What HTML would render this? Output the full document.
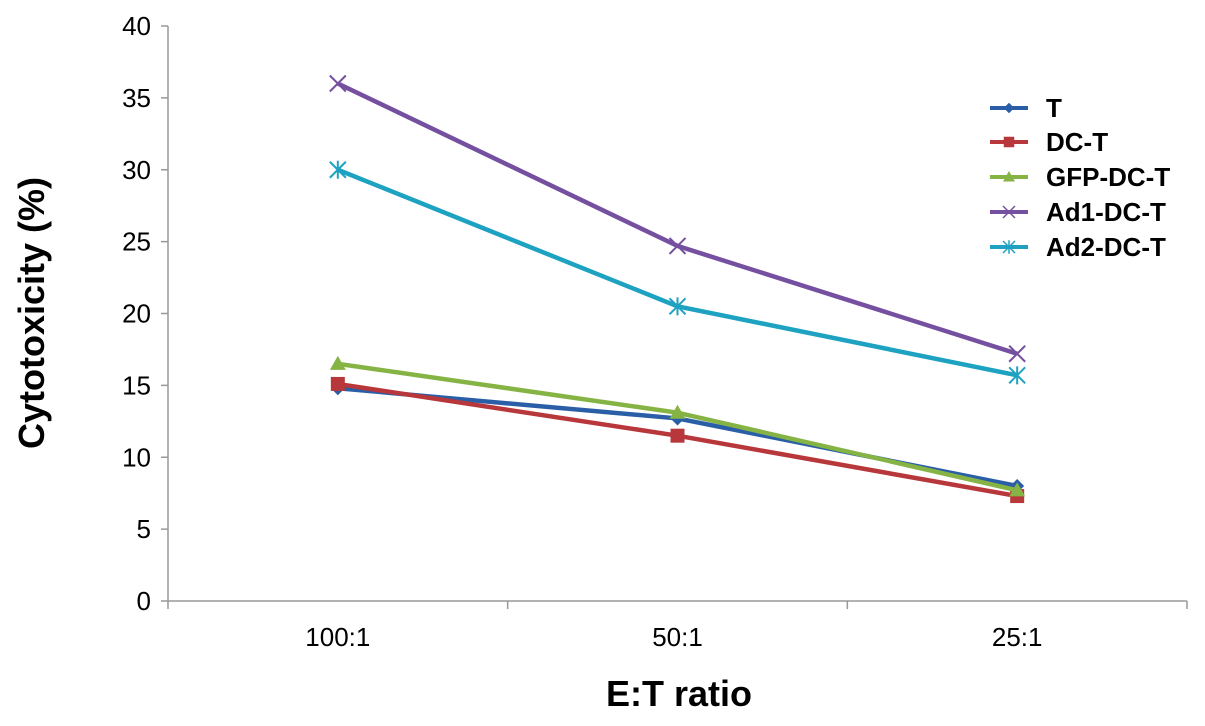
<!DOCTYPE html>
<html><head><meta charset="utf-8"><style>
body{margin:0;background:#fff;}
svg{display:block;font-family:"Liberation Sans",sans-serif;}
</style></head><body>
<svg id="chart" width="1205" height="726" viewBox="0 0 1205 726" xmlns="http://www.w3.org/2000/svg">
<g id="axes"></g><g id="series"></g><g id="legend"></g>
<text x="0" y="0" transform="translate(44,313) rotate(-90)" text-anchor="middle" font-size="36" font-weight="bold">Cytotoxicity (%)</text>
<text x="679" y="706" text-anchor="middle" font-size="36" font-weight="bold">E:T ratio</text>
</svg>
<script>
const categories = ["100:1","50:1","25:1"];
const yTicks = [0,5,10,15,20,25,30,35,40];
const seriesNames = ["T","DC-T","GFP-DC-T","Ad1-DC-T","Ad2-DC-T"];
const valuesT = [14.8,12.7,8.0];
const valuesDCT = [15.1,11.5,7.3];
const valuesGFP = [16.5,13.1,7.7];
const valuesAd1 = [36.0,24.7,17.2];
const valuesAd2 = [30.0,20.5,15.7];

const NS="http://www.w3.org/2000/svg";
const x0=168,x1=1187,yBase=601,yTop=26;
const ys=v=>yBase-(v/40)*(yBase-yTop);
const bw=(x1-x0)/categories.length;
const xs=i=>x0+bw*(i+0.5);
function mk(tag,attrs,parent){const e=document.createElementNS(NS,tag);for(const k in attrs)e.setAttribute(k,attrs[k]);parent.appendChild(e);return e;}
const axes=document.getElementById('axes');
let a=mk('line',{x1:x0,y1:yTop,x2:x0,y2:yBase,stroke:'#999','stroke-width':1.5},axes);


a=mk('line',{x1:x0,y1:yBase,x2:x1,y2:yBase,stroke:'#999','stroke-width':1.5},axes);


yTicks.forEach(v=>{
  const y=ys(v);
  let t=mk('line',{x1:x0-7,y1:y,x2:x0,y2:y,stroke:'#999','stroke-width':1.5},axes);
  
  
  let l=mk('text',{x:151,y:y+9,'text-anchor':'end','font-size':26},axes);
  l.textContent=v;
  
  
});
for(let i=0;i<=categories.length;i++){
  let t=mk('line',{x1:x0+bw*i,y1:yBase,x2:x0+bw*i,y2:yBase+8,stroke:'#999','stroke-width':1.5},axes);
  
  
}
categories.forEach((c,i)=>{
  let l=mk('text',{x:xs(i),y:646,'text-anchor':'middle','font-size':26},axes);
  l.textContent=c;
  
  
});
const colors=['#2a5fa8','#b8373a','#86b444','#7550a0','#1ea2c2'];
const markers=['diamond','square','triangle','x','star'];
const all=[valuesT,valuesDCT,valuesGFP,valuesAd1,valuesAd2];
function marker(type,x,y,c,g){
  let m;
  if(type==='diamond')m=mk('polygon',{points:`${x},${y-7} ${x+7},${y} ${x},${y+7} ${x-7},${y}`,fill:c},g);
  else if(type==='square')m=mk('rect',{x:x-7,y:y-7,width:14,height:14,fill:c},g);
  else if(type==='triangle')m=mk('polygon',{points:`${x},${y-8} ${x+8},${y+6} ${x-8},${y+6}`,fill:c},g);
  else if(type==='x')m=mk('path',{d:`M${x-8},${y-8}L${x+8},${y+8}M${x-8},${y+8}L${x+8},${y-8}`,stroke:c,'stroke-width':2,fill:'none'},g);
  else m=mk('path',{d:`M${x-8},${y-8}L${x+8},${y+8}M${x-8},${y+8}L${x+8},${y-8}M${x},${y-9}L${x},${y+9}`,stroke:c,'stroke-width':2,fill:'none'},g);
  return m;
}
const sg=document.getElementById('series');
const order=[3,4,0,1,2];
order.forEach(s=>{
  const g=mk('g',{},sg);
  
  
  const pts=all[s].map((v,i)=>xs(i)+','+ys(v)).join(' ');
  const pl=mk('polyline',{points:pts,fill:'none',stroke:colors[s],'stroke-width':4.5},g);
  
  
  all[s].forEach((v,i)=>{
    const m=marker(markers[s],xs(i),ys(v),colors[s],g);
    
    
  });
});
const lg=document.getElementById('legend');


const ly=[108,142,177,212,247];
seriesNames.forEach((n,s)=>{
  const g=mk('g',{},lg);
  
  
  mk('line',{x1:990,y1:ly[s],x2:1028,y2:ly[s],stroke:colors[s],'stroke-width':4},g);
  marker(markers[s],1009,ly[s],colors[s],g).setAttribute('transform',`translate(1009,${ly[s]}) scale(0.75) translate(-1009,${-ly[s]})`);
  const t=mk('text',{x:1046,y:ly[s]+9,'font-size':26,'font-weight':'bold'},g);
  t.textContent=n;
});
</script>
</body></html>
